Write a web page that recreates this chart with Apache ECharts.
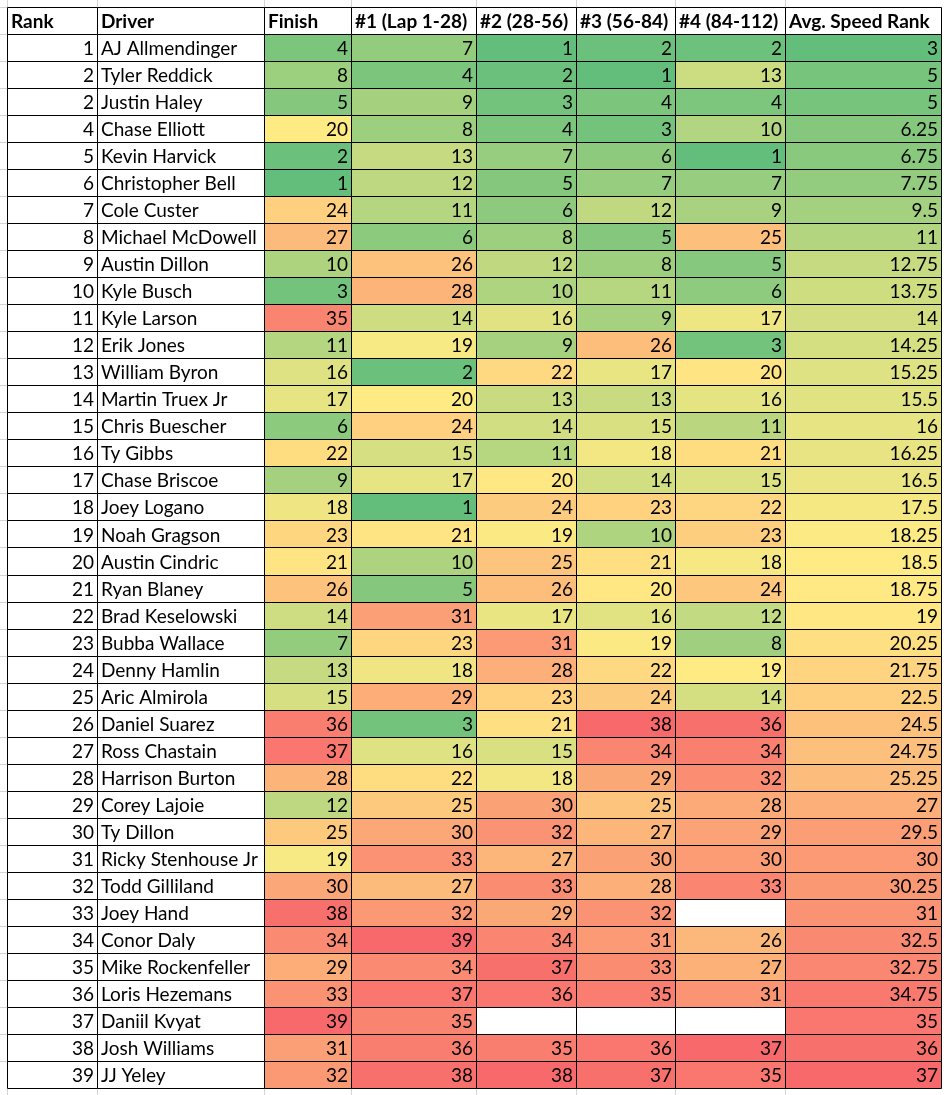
<!DOCTYPE html>
<html><head><meta charset="utf-8">
<script src="https://cdn.jsdelivr.net/npm/echarts@6/dist/echarts.min.js"></script>
<style>html,body{margin:0;padding:0;background:#fff}#c{width:946px;height:1095px}</style>
</head><body><div id="c"></div>
<script>
const headers = ['Rank','Driver','Finish','#1 (Lap 1-28)','#2 (28-56)','#3 (56-84)','#4 (84-112)','Avg. Speed Rank'];
const ranks = [1,2,2,4,5,6,7,8,9,10,11,12,13,14,15,16,17,18,19,20,21,22,23,24,25,26,27,28,29,30,31,32,33,34,35,36,37,38,39];
const drivers = ['AJ Allmendinger','Tyler Reddick','Justin Haley','Chase Elliott','Kevin Harvick','Christopher Bell','Cole Custer','Michael McDowell','Austin Dillon','Kyle Busch','Kyle Larson','Erik Jones','William Byron','Martin Truex Jr','Chris Buescher','Ty Gibbs','Chase Briscoe','Joey Logano','Noah Gragson','Austin Cindric','Ryan Blaney','Brad Keselowski','Bubba Wallace','Denny Hamlin','Aric Almirola','Daniel Suarez','Ross Chastain','Harrison Burton','Corey Lajoie','Ty Dillon','Ricky Stenhouse Jr','Todd Gilliland','Joey Hand','Conor Daly','Mike Rockenfeller','Loris Hezemans','Daniil Kvyat','Josh Williams','JJ Yeley'];
const finish   = [4,8,5,20,2,1,24,27,10,3,35,11,16,17,6,22,9,18,23,21,26,14,7,13,15,36,37,28,12,25,19,30,38,34,29,33,39,31,32];
const stint1   = [7,4,9,8,13,12,11,6,26,28,14,19,2,20,24,15,17,1,21,10,5,31,23,18,29,3,16,22,25,30,33,27,32,39,34,37,35,36,38];
const stint2   = [1,2,3,4,7,5,6,8,12,10,16,9,22,13,14,11,20,24,19,25,26,17,31,28,23,21,15,18,30,32,27,33,29,34,37,36,null,35,38];
const stint3   = [2,1,4,3,6,7,12,5,8,11,9,26,17,13,15,18,14,23,10,21,20,16,19,22,24,38,34,29,25,27,30,28,32,31,33,35,null,36,37];
const stint4   = [2,13,4,10,1,7,9,25,5,6,17,3,20,16,11,21,15,22,23,18,24,12,8,19,14,36,34,32,28,29,30,33,null,26,27,31,null,37,35];
const avgSpeed = [3,5,5,6.25,6.75,7.75,9.5,11,12.75,13.75,14,14.25,15.25,15.5,16,16.25,16.5,17.5,18.25,18.5,18.75,19,20.25,21.75,22.5,24.5,24.75,25.25,27,29.5,30,30.25,31,32.5,32.75,34.75,35,36,37];

// layout (pixel column edges of the table)
const colEdges = [7,97,264,351,476,576,675,785,941];
const FONT_FAMILY = 'Lato, "Open Sans", sans-serif';

const GREEN=[99,190,123], YELLOW=[255,235,132], RED=[248,105,107];
function median(a){const s=a.filter(v=>v!=null).slice().sort((x,y)=>x-y);const n=s.length;return n%2?s[(n-1)/2]:(s[n/2-1]+s[n/2])/2;}
function mix(a,b,t){return 'rgb('+a.map((v,i)=>Math.round(v+(b[i]-v)*t)).join(',')+')';}
function scaleColor(v,arr){
  if(v==null) return '#ffffff';
  const vals=arr.filter(x=>x!=null);
  const mn=Math.min(...vals), mx=Math.max(...vals), md=median(arr);
  if(v<=md) return mix(GREEN,YELLOW,md===mn?1:(v-mn)/(md-mn));
  return mix(YELLOW,RED,mx===md?1:(v-md)/(mx-md));
}
const colored=[finish,stint1,stint2,stint3,stint4,avgSpeed];

const cells=[], info=[];
headers.forEach((h,c)=>{cells.push([c,0]);info.push({text:h,fill:'#fff',align:'left',bold:true});});
drivers.forEach((d,i)=>{
  const r=i+1;
  cells.push([0,r]);info.push({text:String(ranks[i]),fill:'#fff',align:'right'});
  cells.push([1,r]);info.push({text:d,fill:'#fff',align:'left'});
  colored.forEach((arr,k)=>{
    const v=arr[i];
    cells.push([k+2,r]);
    info.push({text:v==null?'':String(v),fill:scaleColor(v,arr),align:'right'});
  });
});

const rowCats=[];for(let i=0;i<=drivers.length;i++)rowCats.push(i);

function renderItem(params,api){
  const c=api.value(0), r=api.value(1);
  const inf=info[params.dataIndex];
  const yc=api.coord([0,r])[1];
  const h=api.size([0,1])[1];
  const x0=Math.round(api.coord([colEdges[c],r])[0]);
  const x1=Math.round(api.coord([colEdges[c+1],r])[0]);
  const y0=Math.round(yc-h/2), y1=Math.round(yc+h/2);
  const ch=[];
  ch.push({type:'rect',shape:{x:x0+0.5,y:y0+0.5,width:x1-x0,height:y1-y0},style:{fill:inf.fill,stroke:'#000',lineWidth:1}});
  // faint spreadsheet gridlines outside the table
  if(r===0) ch.push({type:'line',shape:{x1:x0+0.5,y1:0,x2:x0+0.5,y2:y0},style:{stroke:'#d4d4d4',lineWidth:1}});
  if(r===drivers.length) ch.push({type:'line',shape:{x1:x0+0.5,y1:y1+1,x2:x0+0.5,y2:y1+8},style:{stroke:'#d4d4d4',lineWidth:1}});
  if(c===0) ch.push({type:'line',shape:{x1:0,y1:y0+0.5,x2:x0,y2:y0+0.5},style:{stroke:'#d4d4d4',lineWidth:1}});
  ch.push({type:'text',style:{text:inf.text,x:inf.align==='right'?x1-3:x0+4,y:(y0+y1)/2+1.5,align:inf.align,verticalAlign:'middle',fill:'#000',
    font:(inf.bold?'bold ':'')+'19px '+FONT_FAMILY}});
  return {type:'group',children:ch};
}

const chart=echarts.init(document.getElementById('c'),null,{renderer:'canvas'});
chart.setOption({
  animation:false,
  grid:{left:0,right:0,top:7,bottom:7},
  xAxis:{type:'value',min:0,max:946,show:false},
  yAxis:{type:'category',data:rowCats,inverse:true,show:false},
  series:[{type:'custom',renderItem:renderItem,data:cells,clip:false,encode:{x:0,y:1}}]
});
</script></body></html>
